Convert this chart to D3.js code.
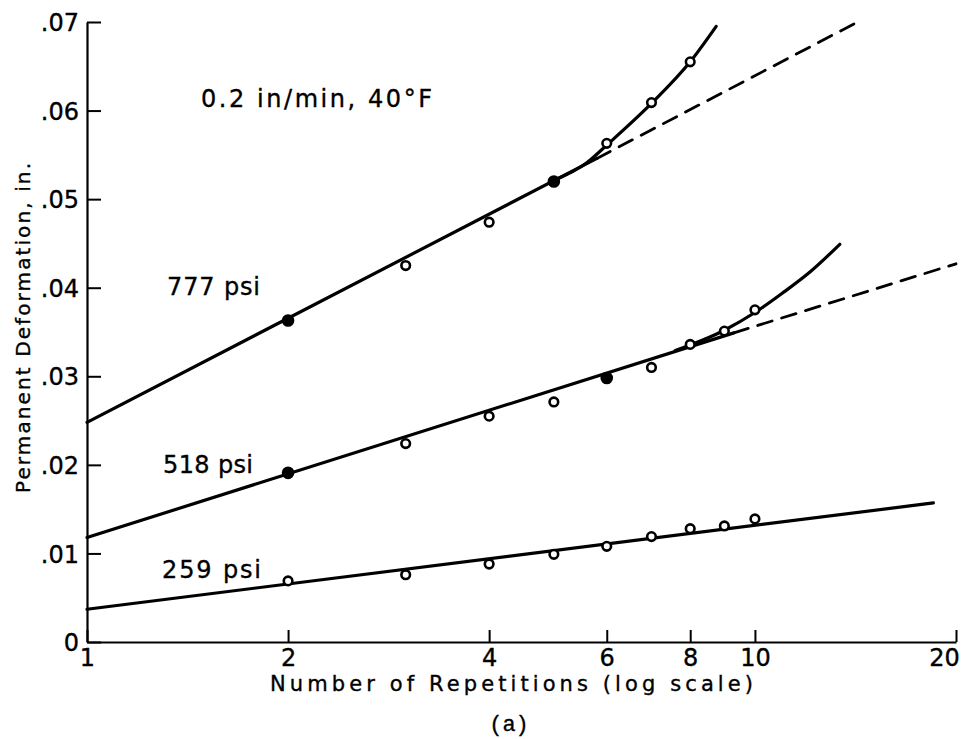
<!DOCTYPE html>
<html>
<head>
<meta charset="utf-8">
<script src="https://cdn.jsdelivr.net/npm/d3@7"></script>
<style>
    body { margin: 0; background: #fff; }
    text { font-family: "DejaVu Sans", sans-serif; fill: #000; stroke: #000; stroke-width: 0.35px; }
</style>
</head>
<body>
<svg id="chart" width="968" height="739"></svg>
<script>
// measured points (repetitions, deformation in.)
var reps777 = [2, 3, 4, 5, 6, 7, 8];
var def777 = [.0363, .0425, .0474, .0520, .0563, .0609, .0655];
var solid777 = [true, false, false, true, false, false, false];

var reps = [2, 3, 4, 5, 6, 7, 8, 9, 10];
var def518 = [.0191, .0224, .0255, .0271, .0298, .0310, .0336, .0351, .0375];
var solid518 = [true, false, false, false, true, false, false, false, false];
var def259 = [.0069, .0076, .0088, .0099, .0108, .0119, .0128, .0131, .0139];

// fitted lines
var fit777 = [[1, .0248], [5.8, .0546]];
var dash777 = [[5.8, .0546], [14.5, .0703]];
var bend777 = [[5.0, .0521], [5.6, .0541], [6, .0561], [7, .0608], [8, .0655], [8.75, .0695]];

var fit518 = [[1, .0118], [9.3, .0349]];
var dash518 = [[9.3, .0349], [20, .0427]];
var bend518 = [[7.6, .0329], [9, .0352], [10, .0372], [11, .0394], [12.1, .0418], [13.4, .0449]];

var fit259 = [[1, .0037], [18.5, .0157]];

var xTicks = [1, 2, 4, 6, 8, 10, 20];
var yTicks = [0, .01, .02, .03, .04, .05, .06, .07];

var labels = [
    {text: "0.2 in/min, 40°F", x: 201, y: 107, len: 231},
    {text: "777 psi", x: 167, y: 295, len: 93},
    {text: "518 psi", x: 163, y: 473, len: 90},
    {text: "259 psi", x: 162, y: 578, len: 99}
];

var svg = d3.select("#chart");

var x = d3.scaleLog().domain([1, 20]).range([87, 956]);
var y = d3.scaleLinear().domain([0, .07]).range([642, 22]);

// axes, ticks point inward
var yAxis = d3.axisLeft(y)
    .tickValues(yTicks)
    .tickSizeInner(-14)
    .tickSizeOuter(0)
    .tickPadding(10)
    .tickFormat(function(d){
        if (d == 0) return "0";
        return d3.format(".2f")(d).replace(/^0/, "");
    });

var xAxis = d3.axisBottom(x)
    .tickValues(xTicks)
    .tickSizeInner(-12)
    .tickSizeOuter(0)
    .tickPadding(7)
    .tickFormat(d3.format("d"));

var gy = svg.append("g").attr("transform", "translate(87,0)").call(yAxis);
var gx = svg.append("g").attr("transform", "translate(0,642)").call(xAxis);

[gx, gy].forEach(function(g){
    g.select(".domain").attr("stroke", "#000").attr("stroke-width", 2.2);
    g.selectAll(".tick line").attr("stroke", "#000").attr("stroke-width", 2);
    g.selectAll(".tick text").style("font-size", "24px").attr("fill", "#000");
});
gy.selectAll(".tick text").attr("dy", "0.36em").attr("x", -8);
// the "20" sits left of its tick in the original
gx.selectAll(".tick text").filter(function(d){ return d == 20; }).attr("x", -12);

// axis titles
svg.append("text")
    .attr("x", 270)
    .attr("y", 691)
    .attr("textLength", 483)
    .attr("lengthAdjust", "spacing")
    .style("font-size", "21px")
    .text("Number of Repetitions (log scale)");

svg.append("text")
    .attr("transform", "translate(30,493) rotate(-90)")
    .attr("textLength", 330)
    .attr("lengthAdjust", "spacing")
    .style("font-size", "20px")
    .text("Permanent Deformation, in.");

svg.append("text")
    .attr("x", 509)
    .attr("y", 731)
    .attr("text-anchor", "middle")
    .style("font-family", "'Liberation Mono', 'DejaVu Sans Mono', monospace")
    .style("font-size", "22px")
    .text("(a)");

// curve labels
svg.selectAll(".lbl")
    .data(labels)
    .enter().append("text")
    .attr("class", "lbl")
    .attr("x", function(d){ return d.x; })
    .attr("y", function(d){ return d.y; })
    .attr("textLength", function(d){ return d.len; })
    .attr("lengthAdjust", "spacing")
    .style("font-size", "24px")
    .text(function(d){ return d.text; });

var line = d3.line()
    .x(function(d){ return x(d[0]); })
    .y(function(d){ return y(d[1]); });

var smooth = d3.line()
    .curve(d3.curveMonotoneX)
    .x(function(d){ return x(d[0]); })
    .y(function(d){ return y(d[1]); });

function drawPath(pts, gen, dashed){
    svg.append("path")
        .attr("d", gen(pts))
        .attr("fill", "none")
        .attr("stroke", "#000")
        .attr("stroke-width", dashed ? 2.8 : 3.2)
        .attr("stroke-linecap", "round")
        .attr("stroke-dasharray", dashed ? "15,10" : null);
}

drawPath(fit777, line, false);
drawPath(dash777, line, true);
drawPath(bend777, smooth, false);
drawPath(fit518, line, false);
drawPath(dash518, line, true);
drawPath(bend518, smooth, false);
drawPath(fit259, line, false);

function drawPoints(xs, ys, solid){
    var pts = xs.map(function(v, i){
        return {x: v, y: ys[i], solid: solid ? solid[i] : false};
    });
    svg.selectAll(null)
        .data(pts)
        .enter().append("circle")
        .attr("cx", function(d){ return x(d.x); })
        .attr("cy", function(d){ return y(d.y); })
        .attr("r", function(d){ return d.solid ? 5 : 4.3; })
        .attr("fill", function(d){ return d.solid ? "#000" : "#fff"; })
        .attr("stroke", "#000")
        .attr("stroke-width", 2.6);
}

drawPoints(reps777, def777, solid777);
drawPoints(reps, def518, solid518);
drawPoints(reps, def259, null);
</script>
</body>
</html>
